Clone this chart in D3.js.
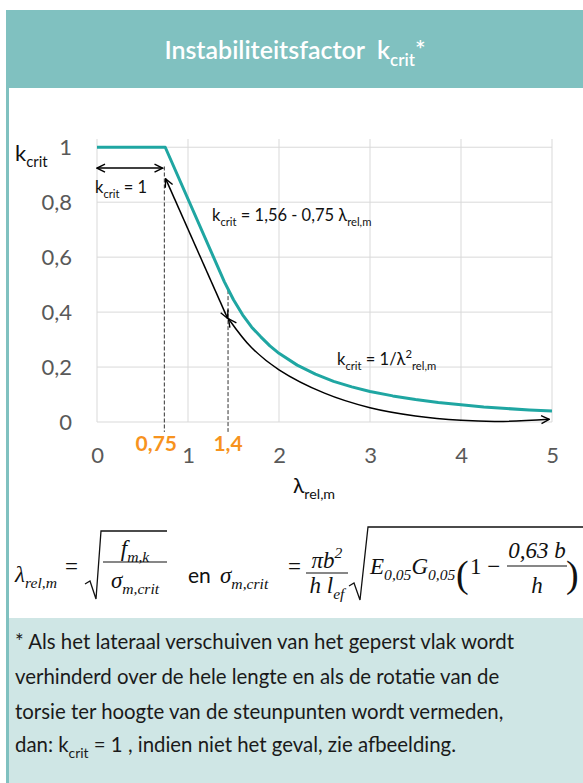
<!DOCTYPE html>
<html>
<head>
<meta charset="utf-8">
<script src="https://cdn.jsdelivr.net/npm/d3@7"></script>
<style>
  body { margin: 0; background: #fff; }
  text { white-space: pre; }
</style>
</head>
<body>
<div id="plot"></div>
<script>
// Curve k_crit(lambda_rel,m)
var lambda = [0, 0.75, 1.4, 1.5, 1.6, 1.7, 1.8, 1.9, 2.0, 2.2, 2.4, 2.6, 2.8, 3.0, 3.25, 3.5, 3.75, 4.0, 4.25, 4.5, 4.75, 5.0];
var kcrit  = [1, 1, 0.51, 0.445, 0.39, 0.345, 0.31, 0.277, 0.25, 0.207, 0.174, 0.148, 0.128, 0.111, 0.095, 0.082, 0.071, 0.063, 0.055, 0.049, 0.044, 0.04];

// axis ticks
var xTicks = [0, 1, 2, 3, 4, 5];
var xTickLabels = ["0", "1", "2", "3", "4", "5"];
var yTicks = [0, 0.2, 0.4, 0.6, 0.8, 1];
var yTickLabels = ["0", "0,2", "0,4", "0,6", "0,8", "1"];

// marked lambda values (dashed lines) and their labels
var markLambda = [0.74, 1.44];
var markTop = [0.93, 0.48];
var markLabels = ["0,75", "1,4"];

// annotation arrows, in (lambda, k) pairs
var flatArrow = [[0, 0.924], [0.72, 0.924]];
var slopeArrow = [[0.755, 0.885], [1.435, 0.377]];
var tailArrow = [[1.445, 0.376], [1.7, 0.27], [2.0, 0.19], [2.5, 0.105], [3.0, 0.052], [3.5, 0.022], [4.0, 0.006], [4.4, 0.002], [4.97, 0.01]];

var W = 583, H = 783;
var teal = "#1fa6a2", orange = "#f7931e", grid = "#d9d9d9", tickGrey = "#595959";
var sans = "Lato, 'Open Sans', sans-serif";
var serif = "'Liberation Serif', 'DejaVu Serif', serif";

var svg = d3.select("#plot").append("svg")
    .attr("width", W)
    .attr("height", H)
    .style("font-family", sans);

// helper: text with sub/superscript runs
function rich(sel, x, y, size, parts) {
  var t = sel.append("text").attr("x", x).attr("y", y).style("font-size", size + "px");
  var shift = 0;
  parts.forEach(function(p) {
    var kind = p[1];
    var target = kind === "sub" ? size * 0.28 : kind === "sup" ? -size * 0.42 : 0;
    t.append("tspan")
      .attr("dy", target - shift)
      .style("font-size", kind ? (size * 0.68) + "px" : null)
      .text(p[0]);
    shift = target;
  });
  return t;
}

// frame: header, left bar, footer box
svg.append("rect").attr("x", 6).attr("y", 10).attr("width", W - 6).attr("height", 78).attr("fill", "#80c1c0");
svg.append("rect").attr("x", 6).attr("y", 10).attr("width", 3).attr("height", H - 10).attr("fill", "#80c1c0");
svg.append("rect").attr("x", 9).attr("y", 618).attr("width", W - 9).attr("height", H - 618).attr("fill", "#cfe6e5");

rich(svg, 295, 59, 25, [["Instabiliteitsfactor  k"], ["crit", "sub"], ["*"]])
  .attr("text-anchor", "middle").attr("fill", "#fff").style("font-weight", 600);

// scales
var x = d3.scaleLinear().domain([0, 5]).range([97, 552]);
var y = d3.scaleLinear().domain([0, 1.03]).range([422, 139]);

var plot = svg.append("g");

// gridlines
plot.selectAll(".hgrid").data(yTicks).enter().append("line")
  .attr("x1", x(0)).attr("x2", x(5))
  .attr("y1", d => y(d)).attr("y2", d => y(d))
  .attr("stroke", grid).attr("stroke-width", 1);
plot.selectAll(".vgrid").data(xTicks).enter().append("line")
  .attr("x1", d => x(d)).attr("x2", d => x(d))
  .attr("y1", y(0)).attr("y2", y(1.03))
  .attr("stroke", grid).attr("stroke-width", 1);

// axes (labels only)
var yAxis = plot.append("g").attr("transform", `translate(${x(0)},0)`)
  .call(d3.axisLeft(y).tickValues(yTicks).tickFormat((d, i) => yTickLabels[i]).tickSize(0).tickPadding(25));
var xAxis = plot.append("g").attr("transform", `translate(0,${y(0)})`)
  .call(d3.axisBottom(x).tickValues(xTicks).tickFormat((d, i) => xTickLabels[i]).tickSize(0).tickPadding(25));
[yAxis, xAxis].forEach(function(a) {
  a.select(".domain").remove();
  a.selectAll("text").attr("fill", tickGrey).style("font-size", "22px").style("font-family", sans);
});

// arrow marker
svg.append("defs").append("marker")
  .attr("id", "arr")
  .attr("viewBox", "0 0 10 10")
  .attr("refX", 9).attr("refY", 5)
  .attr("markerWidth", 10).attr("markerHeight", 10)
  .attr("markerUnits", "userSpaceOnUse")
  .attr("orient", "auto-start-reverse")
  .append("path")
    .attr("d", "M1,1 L9,5 L1,9")
    .attr("fill", "none").attr("stroke", "#000").attr("stroke-width", 1.4);

// dashed markers
plot.selectAll(".mark").data(markLambda).enter().append("line")
  .attr("x1", d => x(d)).attr("x2", d => x(d))
  .attr("y1", (d, i) => y(markTop[i])).attr("y2", y(-0.036))
  .attr("stroke", "#333").attr("stroke-width", 1).attr("stroke-dasharray", "4,2");

plot.selectAll(".marklabel").data(markLambda).enter().append("text")
  .attr("x", (d, i) => x(d) + [-8, 0][i])
  .attr("y", 451)
  .attr("text-anchor", "middle")
  .attr("fill", orange)
  .style("font-size", "21px").style("font-weight", 700)
  .text((d, i) => markLabels[i]);

// the k_crit curve
var line = d3.line().x(d => x(d[0])).y(d => y(d[1]));
plot.append("path")
  .datum(lambda.map((l, i) => [l, kcrit[i]]))
  .attr("d", line)
  .attr("fill", "none").attr("stroke", teal).attr("stroke-width", 3)
  .attr("stroke-linejoin", "round");

// annotation arrows
[flatArrow, slopeArrow].forEach(function(a) {
  plot.append("path").datum(a).attr("d", line)
    .attr("fill", "none").attr("stroke", "#000").attr("stroke-width", 1.5)
    .attr("marker-start", "url(#arr)").attr("marker-end", "url(#arr)");
});
plot.append("path").datum(tailArrow)
  .attr("d", d3.line().x(d => x(d[0])).y(d => y(d[1])).curve(d3.curveCatmullRom))
  .attr("fill", "none").attr("stroke", "#000").attr("stroke-width", 1.5)
  .attr("marker-start", "url(#arr)").attr("marker-end", "url(#arr)");

// chart texts
rich(svg, 15, 161, 22, [["k"], ["crit", "sub"]]).attr("fill", "#111");
rich(svg, 95, 193, 16.5, [["k"], ["crit", "sub"], [" = 1"]]).attr("fill", "#111");
rich(svg, 212, 221, 16.5, [["k"], ["crit", "sub"], [" = 1,56 - 0,75 λ"], ["rel,m", "sub"]]).attr("fill", "#111");
rich(svg, 337, 365, 16.5, [["k"], ["crit", "sub"], [" = 1/λ"], ["2", "sup"], ["rel,m", "sub"]]).attr("fill", "#111");
rich(svg, 293, 493, 21, [["λ"], ["rel,m", "sub"]]).attr("fill", "#111");

// formula
var f = svg.append("g").attr("fill", "#111").style("font-family", serif).style("font-style", "italic");
function frac(g, cx, yNum, yBar, yDen, w, num, den, size) {
  rich(g, cx, yNum, size, num).attr("text-anchor", "middle");
  g.append("line").attr("x1", cx - w / 2).attr("x2", cx + w / 2).attr("y1", yBar).attr("y2", yBar)
    .attr("stroke", "#111").attr("stroke-width", 1.2);
  rich(g, cx, yDen, size, den).attr("text-anchor", "middle");
}
rich(f, 15, 582, 23, [["λ"], ["rel,m", "sub"]]);
f.append("text").attr("x", 65).attr("y", 574).style("font-size", "23px").style("font-style", "normal").text("=");
f.append("path").attr("d", "M85,584 L90,581 L96,599 L101,531 L167,531").attr("fill", "none").attr("stroke", "#111").attr("stroke-width", 1.3);
frac(f, 135, 556, 562, 588, 64, [["f"], ["m,k", "sub"]], [["σ"], ["m,crit", "sub"]], 23);
f.append("text").attr("x", 188).attr("y", 583).style("font-family", sans).style("font-style", "normal").style("font-size", "21px").text("en");
rich(f, 220, 583, 23, [["σ"], ["m,crit", "sub"]]);
f.append("text").attr("x", 288).attr("y", 574).style("font-size", "23px").style("font-style", "normal").text("=");
frac(f, 327, 568, 573, 593, 42, [["πb"], ["2", "sup"]], [["h l"], ["ef", "sub"]], 23);
f.append("path").attr("d", "M349,586 L354,583 L360,600 L368,527 L583,527").attr("fill", "none").attr("stroke", "#111").attr("stroke-width", 1.3);
rich(f, 370, 574, 23, [["E"], ["0,05", "sub"], ["G"], ["0,05", "sub"]]);
f.append("text").attr("x", 456).attr("y", 587).style("font-size", "38px").style("font-style", "normal").text("(");
f.append("text").attr("x", 470).attr("y", 574).style("font-size", "23px").style("font-style", "normal").text("1 −");
frac(f, 537, 558, 566, 593, 60, [["0,63 b"]], [["h"]], 23);
f.append("text").attr("x", 566).attr("y", 587).style("font-size", "38px").style("font-style", "normal").text(")");

// footnote
var note = svg.append("g").attr("fill", "#1a1a1a");
var lines = [
  [["* Als het lateraal verschuiven van het geperst vlak wordt"]],
  [["verhinderd over de hele lengte en als de rotatie van de"]],
  [["torsie ter hoogte van de steunpunten wordt vermeden,"]],
  [["dan: k"], ["crit", "sub"], [" = 1 , indien niet het geval, zie afbeelding."]]
];
var baselines = [649, 684, 719, 752];
lines.forEach(function(l, i) { rich(note, 15, baselines[i], 20.4, l); });
</script>
</body>
</html>
